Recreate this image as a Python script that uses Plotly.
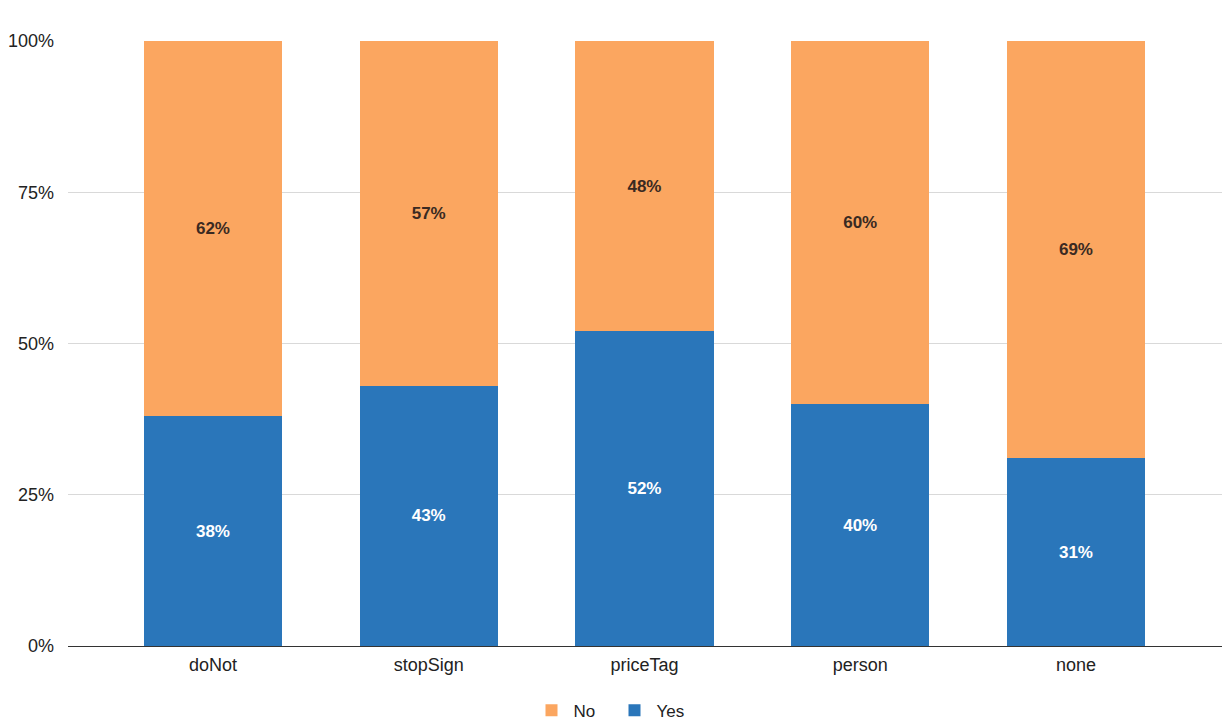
import plotly.graph_objects as go

categories = ["doNot", "stopSign", "priceTag", "person", "none"]
yes_pct = [38, 43, 52, 40, 31]
no_pct = [62, 57, 48, 60, 69]
y_ticks = [0, 25, 50, 75, 100]
y_tick_labels = ["0%", "25%", "50%", "75%", "100%"]

BLUE = "#2A76BA"
ORANGE = "#FBA660"
FONT = "Liberation Sans, Arial, sans-serif"

fig = go.Figure()
fig.add_trace(go.Bar(
    name="Yes", x=categories, y=yes_pct, marker_color=BLUE, marker_line_width=0,
    text=[f"{v}%" for v in yes_pct], textposition="inside", insidetextanchor="middle",
    textfont=dict(color="white", size=17, family=FONT, weight="bold"),
))
fig.add_trace(go.Bar(
    name="No", x=categories, y=no_pct, marker_color=ORANGE, marker_line_width=0,
    text=[f"{v}%" for v in no_pct], textposition="inside", insidetextanchor="middle",
    textfont=dict(color="#3a2a22", size=17, family=FONT, weight="bold"),
))

fig.update_layout(
    barmode="stack",
    bargap=0.36,
    width=1225, height=723,
    margin=dict(l=68, r=3, t=41, b=77, autoexpand=False),
    paper_bgcolor="white", plot_bgcolor="white",
    font=dict(family=FONT, size=18, color="#222222"),
    legend=dict(
        orientation="h", xref="container", x=0.5, xanchor="center",
        y=-0.107, yanchor="middle",
        traceorder="reversed", font=dict(size=17), itemwidth=34,
        entrywidth=34, entrywidthmode="pixels",
    ),
    xaxis=dict(
        range=[-0.672, 4.677], showgrid=False, showline=True,
        linecolor="#333333", linewidth=1, ticks="", tickfont=dict(size=18),
        ticklabelstandoff=2,
    ),
    yaxis=dict(
        range=[0, 100], tickvals=y_ticks, ticktext=y_tick_labels,
        showgrid=True, gridcolor="#D9D9D9", zeroline=False, ticks="",
        tickfont=dict(size=18), ticklabelstandoff=13,
    ),
)

fig.write_html("out.html")
